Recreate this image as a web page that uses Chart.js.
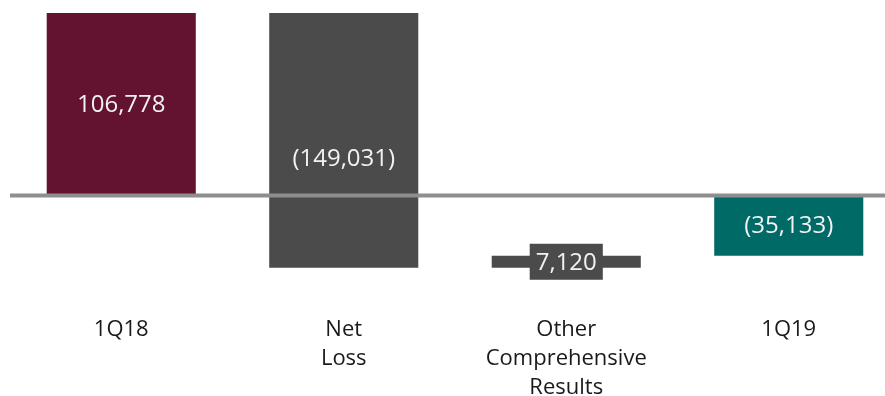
<!DOCTYPE html>
<html>
<head>
<meta charset="utf-8">
<title>Equity bridge 1Q18 - 1Q19</title>
<script src="https://cdn.jsdelivr.net/npm/chart.js@4.4.1/dist/chart.umd.min.js"></script>
<style>
  html, body { margin: 0; padding: 0; background: #fff; overflow: hidden; }
  #wrap { width: 885px; height: 396px; overflow: hidden; }
</style>
</head>
<body>
<div id="wrap"><canvas id="bridge" width="900" height="416"></canvas></div>
<script>
// Bridge data
const categories = [['1Q18'], ['Net', 'Loss'], ['Other', 'Comprehensive', 'Results'], ['1Q19']];
const values = [106778, -149031, 7120, -35133];
const isTotal = [true, false, false, true];
const barColors = ['#631230', '#4b4b4b', '#4b4b4b', '#006a66'];

// floating ranges: totals start at zero, steps continue from the running sum
let running = 0;
const ranges = values.map((v, i) => {
    if (isTotal[i]) {
        running = v;
        return [0, v];
    }
    const start = running;
    running += v;
    return [start, running];
});

function fmt(v) {
    const s = Math.abs(v).toLocaleString('en-US');
    return v < 0 ? '(' + s + ')' : s;
}

const FONT = '"Open Sans", "DejaVu Sans", sans-serif';

// zero line + value labels
const bridgePlugin = {
    id: 'bridge',
    afterDatasetsDraw(chart) {
        const ctx = chart.ctx;
        const area = chart.chartArea;
        const y0 = chart.scales.y.getPixelForValue(0);
        ctx.save();
        ctx.strokeStyle = '#8e8e8e';
        ctx.lineWidth = 4;
        ctx.beginPath();
        ctx.moveTo(area.left, y0);
        ctx.lineTo(area.right, y0);
        ctx.stroke();

        const meta = chart.getDatasetMeta(0);
        ctx.font = '24px ' + FONT;
        ctx.textAlign = 'center';
        ctx.textBaseline = 'middle';
        meta.data.forEach((bar, i) => {
            const { x, y, base } = bar.getProps(['x', 'y', 'base'], true);
            let cy = (y + base) / 2;
            if (i === 1) cy += 18;
            const txt = fmt(values[i]);
            if (i === 2) {
                const w = ctx.measureText(txt).width + 12;
                ctx.fillStyle = '#4b4b4b';
                ctx.fillRect(x - w / 2, cy - 18, w, 36);
            }
            ctx.fillStyle = '#f2f2f2';
            ctx.fillText(txt, x, cy + 1);
        });
        ctx.restore();
    }
};

new Chart(document.getElementById('bridge'), {
    type: 'bar',
    data: {
        labels: categories,
        datasets: [{
            data: ranges,
            backgroundColor: barColors,
            borderWidth: 0,
            barPercentage: 0.67,
            categoryPercentage: 1
        }]
    },
    options: {
        responsive: false,
        animation: false,
        layout: { padding: { left: 10, top: 0, right: 0, bottom: 0 } },
        plugins: {
            legend: { display: false },
            tooltip: { enabled: false }
        },
        scales: {
            x: {
                grid: { display: false },
                border: { display: false },
                ticks: {
                    color: '#1a1a1a',
                    padding: 14,
                    maxRotation: 0,
                    autoSkip: false,
                    font: { family: FONT, size: 22, lineHeight: 1.32 }
                }
            },
            y: {
                display: false,
                min: -56900,
                max: 114400
            }
        }
    },
    plugins: [bridgePlugin]
});
</script>
</body>
</html>
